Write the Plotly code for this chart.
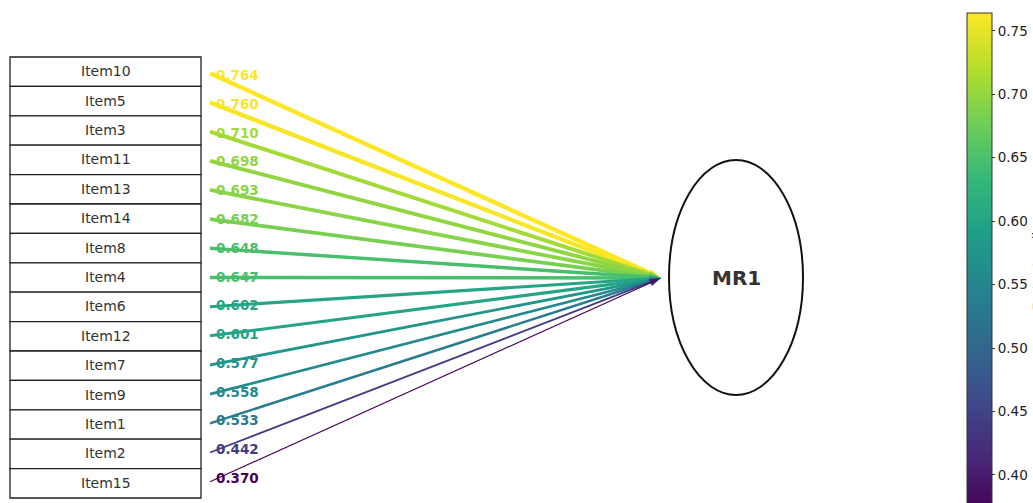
import plotly.graph_objects as go
from plotly.colors import sample_colorscale

# Factor loadings for a single factor (MR1)
items = ["Item10", "Item5", "Item3", "Item11", "Item13", "Item14", "Item8", "Item4",
         "Item6", "Item12", "Item7", "Item9", "Item1", "Item2", "Item15"]
loadings = [0.764, 0.760, 0.710, 0.698, 0.693, 0.682, 0.648, 0.647,
            0.602, 0.601, 0.577, 0.558, 0.533, 0.442, 0.370]
factor_name = "MR1"
cbar_ticks = [0.40, 0.45, 0.50, 0.55, 0.60, 0.65, 0.70, 0.75]

W, H = 1033, 503
n = len(items)
lo, hi = min(loadings), max(loadings)

# layout geometry (pixel-like units on hidden axes)
box_x0, box_x1 = 10, 201
box_top, box_bottom = 57, 498
row_h = (box_bottom - box_top) / n
line_x0 = 210
line_y_top, line_y_step = 73.3, 29.17
end_x, end_y = 661, 278
ell_x0, ell_x1, ell_y0, ell_y1 = 669, 803, 160, 395


def color_of(v):
    return sample_colorscale("Viridis", [(v - lo) / (hi - lo)])[0]


fig = go.Figure()
shapes = []
annotations = []

for i, (name, val) in enumerate(zip(items, loadings)):
    y0 = box_top + i * row_h
    shapes.append(dict(type="rect", xref="x", yref="y",
                       x0=box_x0, x1=box_x1, y0=y0, y1=y0 + row_h,
                       line=dict(color="#222222", width=1.3),
                       fillcolor="white", layer="below"))
    annotations.append(dict(x=(box_x0 + box_x1) / 2, y=y0 + row_h / 2 - 0.5,
                            xref="x", yref="y", text=name, showarrow=False,
                            font=dict(family="DejaVu Sans", size=14, color="#333333"),
                            xanchor="center", yanchor="middle"))

    ys = line_y_top + i * line_y_step
    col = color_of(val)
    fig.add_trace(go.Scatter(
        x=[line_x0, end_x], y=[ys, end_y], mode="lines+markers",
        line=dict(color=col, width=8 * (val - 0.22)),
        marker=dict(symbol="arrow", size=[0, 12], color=col, angleref="previous",
                    line=dict(width=0)),
        hoverinfo="skip", showlegend=False))

    t = 0.013
    lx = line_x0 + t * (end_x - line_x0) - 2
    ly = ys + t * (end_y - ys) - 1
    annotations.append(dict(x=lx, y=ly, xref="x", yref="y", text=f"<b>{val:.3f}</b>",
                            showarrow=False, xanchor="left", yanchor="middle",
                            font=dict(family="DejaVu Sans", size=13.5, color=col)))

# factor ellipse
shapes.append(dict(type="circle", xref="x", yref="y",
                   x0=ell_x0, x1=ell_x1, y0=ell_y0, y1=ell_y1,
                   line=dict(color="#111111", width=2), fillcolor="rgba(0,0,0,0)"))
annotations.append(dict(x=(ell_x0 + ell_x1) / 2, y=(ell_y0 + ell_y1) / 2,
                        xref="x", yref="y", text=f"<b>{factor_name}</b>", showarrow=False,
                        font=dict(family="DejaVu Sans", size=20, color="#333333"),
                        xanchor="center", yanchor="middle"))

# colour scale for loadings
cb_top_px = 13
px_per_unit = (475 - 30) / (0.75 - 0.40)
cb_bottom_px = 30 + (0.75 - lo) * px_per_unit
fig.add_trace(go.Scatter(
    x=[500] * n, y=[250] * n, mode="markers",
    marker=dict(size=0.1, opacity=0, color=loadings, colorscale="Viridis",
                cmin=lo, cmax=hi, showscale=True,
                colorbar=dict(
                    x=967 / W, xanchor="left", xpad=0, ypad=0,
                    y=1 - cb_top_px / H, yanchor="top",
                    len=(cb_bottom_px - cb_top_px) / H, lenmode="fraction",
                    thickness=25, outlinewidth=1, outlinecolor="#333333",
                    tickvals=cbar_ticks, ticktext=[f"{v:.2f}" for v in cbar_ticks],
                    ticks="outside", ticklen=3, tickcolor="#333333",
                    tickfont=dict(family="DejaVu Sans", size=13.5, color="#222222"),
                    title=dict(text="Factor Loading", side="right",
                               font=dict(family="DejaVu Sans", size=13, color="#222222")),
                )),
    hoverinfo="skip", showlegend=False))

fig.update_layout(
    width=W, height=H, autosize=False,
    margin=dict(l=0, r=0, t=0, b=0, autoexpand=False),
    paper_bgcolor="white", plot_bgcolor="white",
    xaxis=dict(range=[0, W], visible=False, fixedrange=True),
    yaxis=dict(range=[H, 0], visible=False, fixedrange=True),
    shapes=shapes, annotations=annotations,
)

fig.write_html("out.html")
